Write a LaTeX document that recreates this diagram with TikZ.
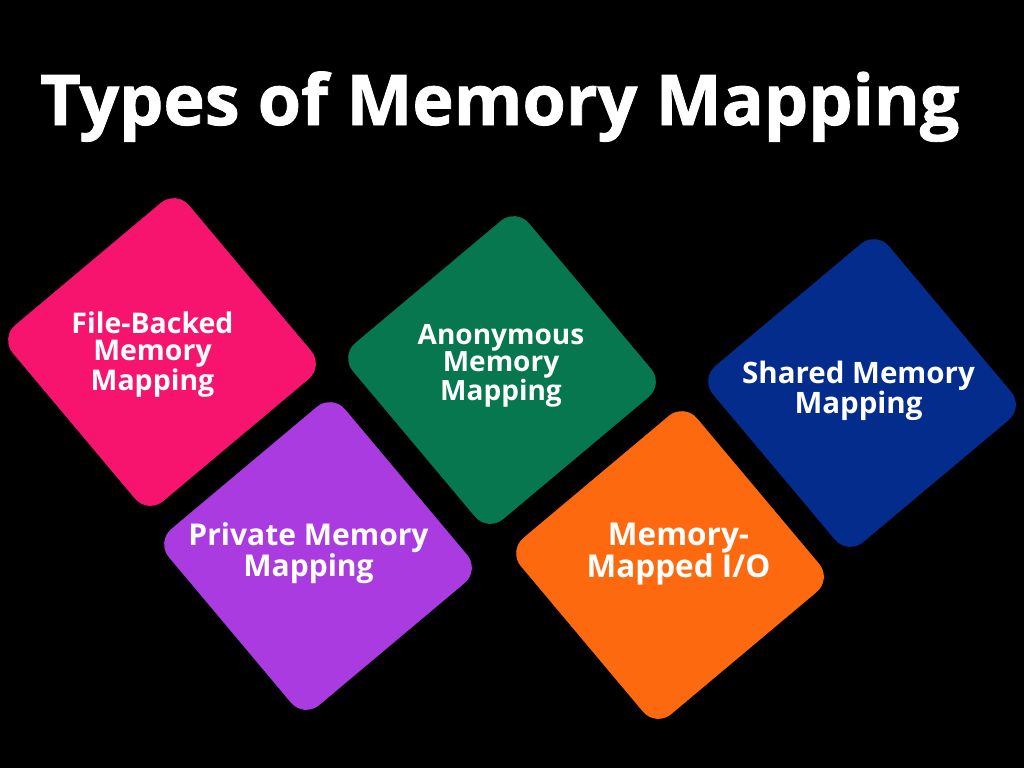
\documentclass[tikz,border=0pt]{standalone}
\usepackage{fontspec}
\setmainfont{Open Sans}
\newfontfamily\titlefont{Open Sans}[BoldFeatures={FakeBold=1.2}]
\definecolor{cpink}{HTML}{F7146E}
\definecolor{cpurple}{HTML}{A93BE0}
\definecolor{cgreen}{HTML}{06774F}
\definecolor{corange}{HTML}{FD690E}
\definecolor{cblue}{HTML}{042C8D}
\begin{document}
\begin{tikzpicture}[x=1pt,y=-1pt,
  box/.style={rectangle, rounded corners=20pt, minimum width=230pt, minimum height=230pt, inner sep=0pt, rotate=40, draw=none},
  lbl/.style 2 args={text=white, align=center, font=\bfseries\fontsize{#1}{#2}\selectfont, inner sep=0pt}]
\fill[black] (0,0) rectangle (1024,768);
\useasboundingbox (0,0) rectangle (1024,768);
\node[anchor=base west, text=white, font=\titlefont\bfseries\fontsize{70}{70}\selectfont, inner sep=0pt] (title) at (40,125) {Types of Memory Mapping};
\node[box, fill=cpink] (fb) at (162,352) {};
\node[box, fill=cpurple] (pm) at (318,556) {};
\node[box, fill=cgreen] (am) at (502,370) {};
\node[box, fill=corange] (mio) at (670,565) {};
\node[box, fill=cblue] (sm) at (862,393) {};
\node[lbl={28.5}{27.5}] (fbt) at (152.5,354.5) {File-Backed\\Memory\\Mapping};
\node[lbl={30}{29}] (pmt) at (308.5,553) {Private Memory\\Mapping};
\node[lbl={28}{27.5}] (amt) at (501,366) {Anonymous\\Memory\\Mapping};
\node[lbl={31.5}{31}] (miot) at (678.5,554) {Memory-\\Mapped I/O};
\node[lbl={29.5}{29}] (smt) at (858.5,391) {Shared Memory\\Mapping};
\end{tikzpicture}
\end{document}
